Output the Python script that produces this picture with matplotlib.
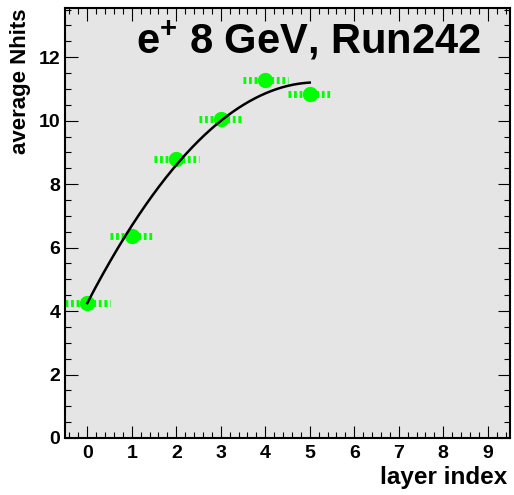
#!/usr/bin/env python3
# -*- coding: utf-8 -*-
"""
Average Nhits per layer, ROOT-style profile plot
"""
import matplotlib
matplotlib.use("Agg")
import matplotlib.pyplot as plt
from matplotlib.ticker import MultipleLocator
import numpy as np

plt.rcParams['font.family'] = ['Liberation Sans', 'DejaVu Sans']
plt.rcParams['font.weight'] = 'bold'
plt.rcParams['mathtext.fontset'] = 'custom'
plt.rcParams['mathtext.rm'] = 'Liberation Sans:bold'
plt.rcParams['mathtext.bf'] = 'Liberation Sans:bold'
plt.rcParams['mathtext.it'] = 'Liberation Sans:bold'
plt.rcParams['mathtext.default'] = 'bf'

# data
layers = np.array([0, 1, 2, 3, 4, 5])
nhits = np.array([4.25, 6.38, 8.79, 10.06, 11.28, 10.84])
xerr = np.array([0.5, 0.5, 0.5, 0.5, 0.5, 0.5])
# pol2 fit parameters (p0, p1, p2)
fit_pars = [4.25, 2.70, -0.262]

title = "e$^{+}$ 8 GeV, Run242"

fig = plt.figure(figsize=(5.14, 4.95), dpi=100)
W, H = 514., 495.
ax = fig.add_axes([65/W, 57/H, 445/W, 430/H])
ax.set_facecolor('#e5e5e5')

# horizontal error bars, dashed like the ROOT canvas
for x, y, e in zip(layers, nhits, xerr):
    ax.plot([x - e, x + e], [y, y], color='#00ff00', lw=5,
            dashes=(0.4, 0.4), solid_capstyle='butt', zorder=2)
ax.plot(layers, nhits, 'o', color='#00ff00', ms=10, mec='#00ff00', zorder=3)

# fitted curve over the filled layers
xf = np.linspace(layers.min(), layers.max(), 200)
ax.plot(xf, np.polyval(fit_pars[::-1], xf), color='black', lw=1.8, zorder=4)

ax.set_xlim(-0.5, 9.5)
ax.set_ylim(0, 13.55)
ax.xaxis.set_major_locator(MultipleLocator(1))
ax.xaxis.set_minor_locator(MultipleLocator(0.2))
ax.yaxis.set_major_locator(MultipleLocator(2))
ax.yaxis.set_minor_locator(MultipleLocator(0.5))
ax.tick_params(which='both', direction='in', top=True, right=True,
               labelsize=14, width=0.8)
ax.tick_params(which='major', length=9)
ax.tick_params(which='minor', length=4.5)
ax.tick_params(axis='x', pad=5)
ax.tick_params(axis='y', pad=3.5)
for s in ax.spines.values():
    s.set_linewidth(1.5)

ax.set_xlabel("layer index", fontsize=17.5, fontweight='bold', loc='right')
ax.set_ylabel("average Nhits", fontsize=16, fontweight='bold', loc='top')
ax.xaxis.set_label_coords(0.993, -0.064)
ax.yaxis.set_label_coords(-0.076, 0.998)

ax.text(0.935, 0.895, title, transform=ax.transAxes, ha='right', va='baseline',
        fontsize=30, fontweight='bold')

plt.savefig("out.png", dpi=100)
